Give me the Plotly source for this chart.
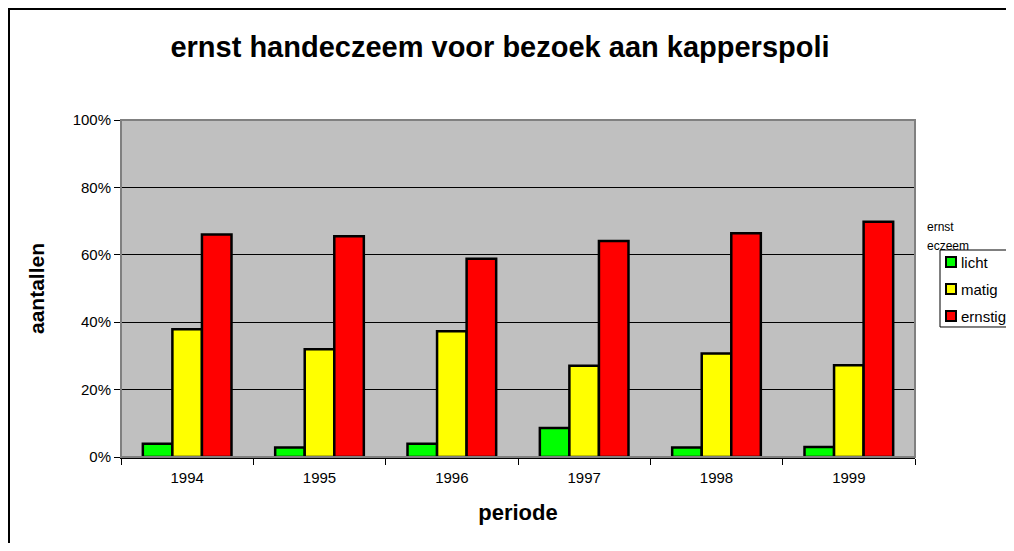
import plotly.graph_objects as go

years = ["1994", "1995", "1996", "1997", "1998", "1999"]
licht = [3.9, 2.8, 3.9, 8.6, 2.8, 3.0]
matig = [37.9, 32.0, 37.3, 27.1, 30.7, 27.2]
ernstig = [66.0, 65.5, 58.8, 64.1, 66.4, 69.8]
series_names = ["licht", "matig", "ernstig"]
series_colors = ["#00FF00", "#FFFF00", "#FF0000"]
y_ticks = [0, 20, 40, 60, 80, 100]
y_tick_labels = ["0%", "20%", "40%", "60%", "80%", "100%"]

# page body has an 8px margin; work in window pixels and shift
O = 8
W, H = 1014 - 2 * O, 551 - 2 * O
L, R, T, B = 121 - O, 915 - O, 120 - O, 457 - O
FONT = "Liberation Sans, Arial, sans-serif"


def px(x):
    return (x - O - L) / (R - L)


def py(y):
    return (B - (y - O)) / (B - T)


def path(points):
    return "M " + " L ".join(f"{px(x):.5f},{py(y):.5f}" for x, y in points)


fig = go.Figure()
for name, vals, col in zip(series_names, [licht, matig, ernstig], series_colors):
    fig.add_trace(go.Bar(
        x=years, y=vals, name=name,
        marker=dict(color=col, line=dict(color="black", width=2.5)),
        showlegend=False,
    ))

shapes = []
# outer chart frame: only left and top edges are inside the page
shapes.append(dict(type="path", xref="paper", yref="paper",
                   path=path([(9, 560), (9, 9), (1016, 9)]),
                   line=dict(color="black", width=2), layer="below"))
# plot area border (grey)
shapes.append(dict(type="rect", xref="paper", yref="paper",
                   x0=0, x1=1, y0=0, y1=1,
                   line=dict(color="#808080", width=2), fillcolor="rgba(0,0,0,0)",
                   layer="above"))
# manual legend box (right edge is off the page)
shapes.append(dict(type="rect", xref="paper", yref="paper",
                   x0=px(940), x1=px(1016), y0=py(327), y1=py(250),
                   line=dict(width=0), fillcolor="white", layer="above"))
shapes.append(dict(type="path", xref="paper", yref="paper",
                   path=path([(1016, 250), (940, 250), (940, 327), (1016, 327)]),
                   line=dict(color="black", width=1), layer="above"))
annotations = []
legend_y = [262, 289, 316]
for name, col, ly in zip(series_names, series_colors, legend_y):
    shapes.append(dict(type="rect", xref="paper", yref="paper",
                       x0=px(946), x1=px(956), y0=py(ly + 5), y1=py(ly - 5),
                       line=dict(color="black", width=2), fillcolor=col,
                       layer="above"))
    annotations.append(dict(text=name, xref="paper", yref="paper",
                            x=px(959), y=py(ly), xanchor="left", yanchor="middle",
                            showarrow=False, font=dict(family=FONT, size=15, color="black")))
annotations.append(dict(text="ernst", xref="paper", yref="paper",
                        x=px(925), y=py(227), xanchor="left", yanchor="middle",
                        showarrow=False, font=dict(family=FONT, size=12, color="black")))
annotations.append(dict(text="eczeem", xref="paper", yref="paper",
                        x=px(925), y=py(246), xanchor="left", yanchor="middle",
                        showarrow=False, font=dict(family=FONT, size=12, color="black")))

fig.update_layout(
    width=W, height=H,
    margin=dict(l=L, r=W - R, t=T, b=H - B, autoexpand=False),
    paper_bgcolor="white",
    plot_bgcolor="#C0C0C0",
    barmode="group",
    bargap=0.33,
    bargroupgap=0,
    showlegend=False,
    title=dict(text="ernst handeczeem voor bezoek aan kapperspoli",
               x=(500 - O) / W, xanchor="center", xref="container",
               y=1 - (47 - O) / H, yanchor="middle", yref="container",
               font=dict(family=FONT, size=29, color="black", weight="bold")),
    font=dict(family=FONT, size=15, color="black"),
    shapes=shapes,
    annotations=annotations,
)
fig.update_xaxes(
    type="category",
    tickson="boundaries",
    ticks="outside", ticklen=6, tickcolor="black", tickwidth=1,
    ticklabelstandoff=6,
    showline=True, linecolor="black", linewidth=2,
    showgrid=False,
    tickfont=dict(family=FONT, size=15, color="black"),
    title=dict(text="periode", standoff=20,
               font=dict(family=FONT, size=22, color="black", weight="bold")),
    automargin=False,
)
fig.update_yaxes(
    range=[0, 100],
    tickvals=y_ticks, ticktext=y_tick_labels,
    ticks="outside", ticklen=6, tickcolor="black", tickwidth=1,
    showline=True, linecolor="black", linewidth=1,
    showgrid=True, gridcolor="black", gridwidth=1,
    zeroline=False,
    tickfont=dict(family=FONT, size=15, color="black"),
    title=dict(text="aantallen", standoff=22,
               font=dict(family=FONT, size=21, color="black", weight="bold")),
    automargin=False,
)

fig.write_html("out.html")
